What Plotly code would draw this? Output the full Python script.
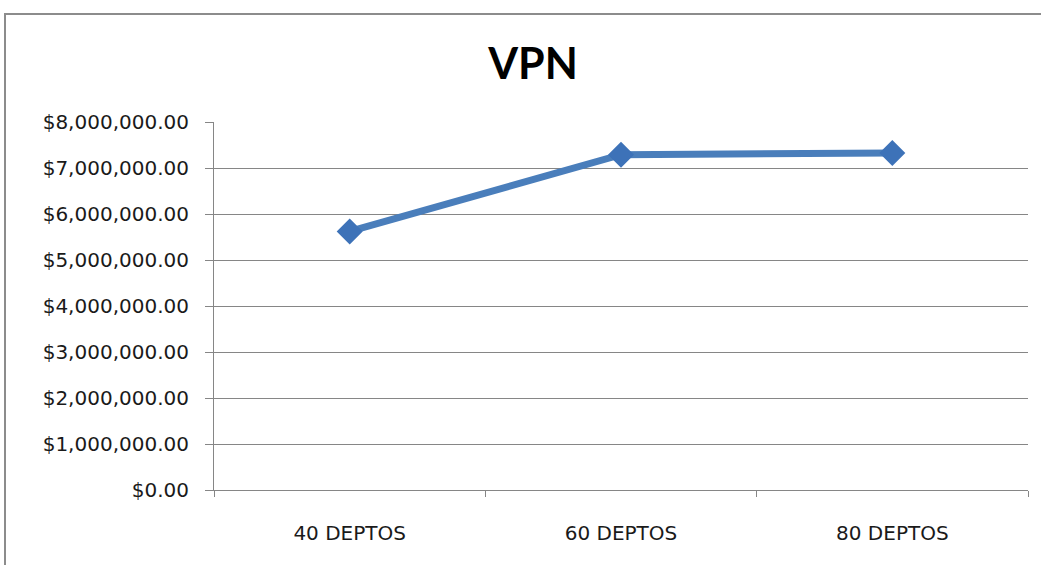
import plotly.graph_objects as go

categories = ["40 DEPTOS", "60 DEPTOS", "80 DEPTOS"]
vpn_values = [5620000, 7290000, 7325000]
y_ticks = [0, 1000000, 2000000, 3000000, 4000000, 5000000, 6000000, 7000000, 8000000]

W, H = 1041, 565
L, R, T, B = 214, 13, 122, 75
pw, ph = W - L - R, H - T - B

def px_x(p):
    return (p - L) / pw

def px_y(p):
    return (H - B - p) / ph

fig = go.Figure()
fig.add_trace(go.Scatter(
    x=categories, y=vpn_values, mode="lines+markers",
    line=dict(color="#4A7EBB", width=7),
    marker=dict(symbol="diamond", size=20, color="#3D72B8"),
    showlegend=False,
))

tick_font = "'DejaVu Sans', Verdana, sans-serif"
fig.update_layout(
    width=W, height=H,
    margin=dict(l=L, r=R, t=T, b=B),
    paper_bgcolor="white", plot_bgcolor="white",
    title=dict(text="<b>VPN</b>", x=533 / W, xanchor="center",
               y=1 - 64 / H, yanchor="middle",
               font=dict(family="Lato, sans-serif", size=43, color="black")),
    xaxis=dict(
        type="category", range=[-0.5, 2.5], tickson="boundaries",
        showgrid=False, showline=True, linecolor="#868686", linewidth=1,
        ticks="outside", ticklen=6, tickcolor="#868686",
        ticklabelstandoff=25,
        tickfont=dict(family=tick_font, size=20, color="#1a1a1a"),
    ),
    yaxis=dict(
        range=[0, 8000000], tickvals=y_ticks, tickformat="$,.2f",
        showgrid=True, gridcolor="#868686", gridwidth=1,
        showline=True, linecolor="#868686", linewidth=1,
        ticks="outside", ticklen=8, tickcolor="#868686",
        ticklabelstandoff=12,
        zeroline=False,
        tickfont=dict(family=tick_font, size=20, color="#1a1a1a"),
    ),
    shapes=[dict(type="rect", xref="paper", yref="paper",
                 x0=px_x(5), x1=px_x(W + 10), y0=px_y(H + 10), y1=px_y(14),
                 line=dict(color="#8C8C8C", width=2), fillcolor="rgba(0,0,0,0)",
                 layer="below")],
)

fig.write_html("out.html", config={"displayModeBar": False},
               post_script="document.body.style.margin='0';document.body.style.overflow='hidden';")
